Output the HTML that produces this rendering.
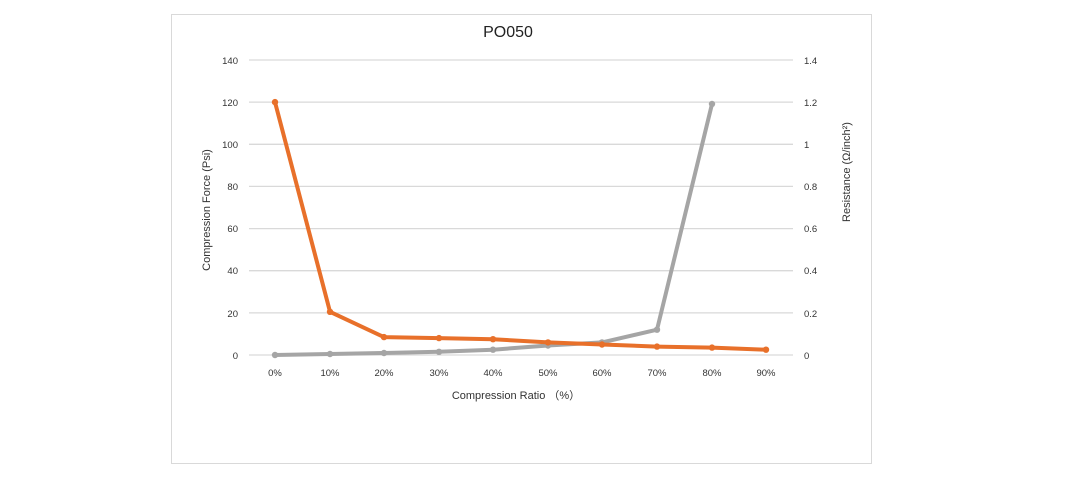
<!DOCTYPE html>
<html><head><meta charset="utf-8"><style>
html,body{margin:0;padding:0;background:#fff;}
svg{display:block;font-family:"Liberation Sans",sans-serif;}
</style></head><body>
<svg width="1092" height="479" viewBox="0 0 1092 479" xmlns="http://www.w3.org/2000/svg">
<rect x="171.5" y="14.5" width="700" height="449" fill="#fff" stroke="#d9d9d9" stroke-width="1"/>
<text x="508" y="37" font-size="16" text-anchor="middle" fill="#222">PO050</text>
<g stroke="#d9d9d9" stroke-width="1.3">
<line x1="249" x2="793" y1="60" y2="60"/>
<line x1="249" x2="793" y1="102.1" y2="102.1"/>
<line x1="249" x2="793" y1="144.3" y2="144.3"/>
<line x1="249" x2="793" y1="186.4" y2="186.4"/>
<line x1="249" x2="793" y1="228.6" y2="228.6"/>
<line x1="249" x2="793" y1="270.7" y2="270.7"/>
<line x1="249" x2="793" y1="312.9" y2="312.9"/>
<line x1="249" x2="793" y1="355" y2="355"/>
</g>
<g font-size="9.5" fill="#333" text-anchor="end">
<text x="238" y="64">140</text><text x="238" y="106">120</text><text x="238" y="148">100</text><text x="238" y="190">80</text><text x="238" y="232">60</text><text x="238" y="274">40</text><text x="238" y="317">20</text><text x="238" y="359">0</text>
</g>
<g font-size="9.5" fill="#333">
<text x="804" y="64">1.4</text><text x="804" y="106">1.2</text><text x="804" y="148">1</text><text x="804" y="190">0.8</text><text x="804" y="232">0.6</text><text x="804" y="274">0.4</text><text x="804" y="317">0.2</text><text x="804" y="359">0</text>
</g>
<g font-size="9.5" fill="#333" text-anchor="middle">
<text x="275" y="376">0%</text><text x="330" y="376">10%</text><text x="384" y="376">20%</text><text x="439" y="376">30%</text><text x="493" y="376">40%</text><text x="548" y="376">50%</text><text x="602" y="376">60%</text><text x="657" y="376">70%</text><text x="712" y="376">80%</text><text x="766" y="376">90%</text>
</g>
<text x="516" y="399" font-size="11" fill="#333" text-anchor="middle">Compression Ratio （%）</text>
<text transform="translate(210,210) rotate(-90)" font-size="11" fill="#333" text-anchor="middle">Compression Force (Psi)</text>
<text transform="translate(850,172) rotate(-90)" font-size="11" fill="#333" text-anchor="middle">Resistance  (Ω/inch²)</text>
<g stroke="#a5a5a5" stroke-width="4" fill="none" stroke-linejoin="round">
<polyline points="275,355 330,354 384,353 439,351.8 493,349.7 548,345.5 602,342.4 657,329.7 712,104"/>
</g>
<g fill="#a5a5a5">
<circle cx="275" cy="355" r="3.2"/><circle cx="330" cy="354" r="3.2"/><circle cx="384" cy="353" r="3.2"/><circle cx="439" cy="351.8" r="3.2"/><circle cx="493" cy="349.7" r="3.2"/><circle cx="548" cy="345.5" r="3.2"/><circle cx="602" cy="342.4" r="3.2"/><circle cx="657" cy="329.7" r="3.2"/><circle cx="712" cy="104" r="3.2"/>
</g>
<g stroke="#e8702a" stroke-width="4" fill="none" stroke-linejoin="round">
<polyline points="275,102.1 330,311.8 384,337.1 439,338.1 493,339.2 548,342.4 602,344.5 657,346.6 712,347.6 766,349.7"/>
</g>
<g fill="#e8702a">
<circle cx="275" cy="102.1" r="3.2"/><circle cx="330" cy="311.8" r="3.2"/><circle cx="384" cy="337.1" r="3.2"/><circle cx="439" cy="338.1" r="3.2"/><circle cx="493" cy="339.2" r="3.2"/><circle cx="548" cy="342.4" r="3.2"/><circle cx="602" cy="344.5" r="3.2"/><circle cx="657" cy="346.6" r="3.2"/><circle cx="712" cy="347.6" r="3.2"/><circle cx="766" cy="349.7" r="3.2"/>
</g>
</svg>
</body></html>
